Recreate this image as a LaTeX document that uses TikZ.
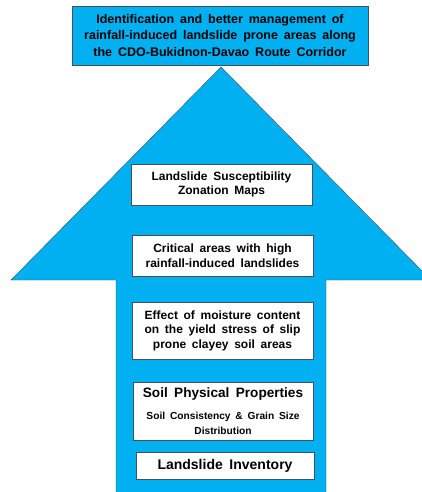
\documentclass[tikz,border=0pt]{standalone}
\usepackage{fontspec}
\setmainfont[WordSpace=1.7]{Liberation Sans}
\usetikzlibrary{shadows}
\definecolor{skyblue}{RGB}{0,176,240}
\definecolor{edgegray}{RGB}{70,80,90}
\tikzset{x=1pt, y=-1pt,
  goalbox/.style={draw=edgegray, fill=skyblue, align=center, inner sep=0pt,
    minimum width=296pt, minimum height=59pt, drop shadow={opacity=0.35, shadow xshift=1.2pt, shadow yshift=-1.2pt},
    font=\bfseries\fontsize{12.5}{16.5}\selectfont},
  stagebox/.style={draw=edgegray, fill=white, align=center, inner sep=0pt,
    minimum width=181pt, font=\bfseries\fontsize{12}{14.5}\selectfont}}

\begin{document}
\begin{tikzpicture}
\useasboundingbox (0,0) rectangle (422,492);
% big upward arrow
\begin{scope}
\clip (0,0) rectangle (422,492);
\path[draw=edgegray, fill=skyblue] (116,500) -- (116,280) -- (11,280) -- (221,67)
  -- (431,280) -- (326,280) -- (326,500) -- cycle;
\end{scope}

\node[goalbox] (goal) at (220,35.5) {Identification and better management of\\
  rainfall-induced landslide prone areas along\\ the CDO-Bukidnon-Davao Route Corridor};

\node[stagebox, minimum height=41pt] (lszm) at (221.5,184.5) {Landslide Susceptibility\\ Zonation Maps};
\node[stagebox, minimum height=41pt] (crit) at (222.5,255.5) {Critical areas with high\\ rainfall-induced landslides};
\node[stagebox, minimum height=57pt] (moist) at (222.5,330.5) {Effect of moisture content\\
  on the yield stress of slip\\ prone clayey soil areas};
\node[stagebox, minimum width=180pt, minimum height=58pt] (soil) at (223,411)
  {{\fontsize{13.6}{20}\selectfont Soil Physical Properties}\\[8pt]
   {\fontsize{10.2}{13.5}\selectfont Soil Consistency \& Grain Size}\\
   {\fontsize{10.2}{13.5}\selectfont Distribution}};
\node[stagebox, minimum width=178pt, minimum height=27pt, font=\bfseries\fontsize{14}{16}\selectfont] (inv) at (225,465.5) {Landslide Inventory};
\end{tikzpicture}
\end{document}
